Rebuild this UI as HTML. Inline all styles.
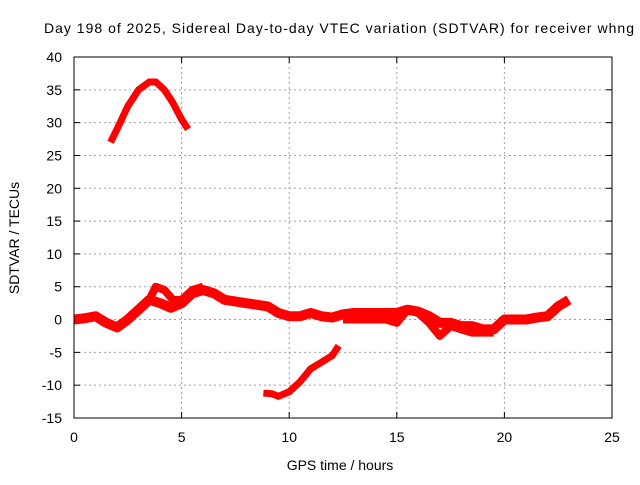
<!DOCTYPE html>
<html><head><meta charset="utf-8"><style>
body{margin:0;background:#fff}
svg text{font-family:"Liberation Sans",sans-serif;font-size:14px;fill:#000}
</style></head><body>
<svg id="chart" width="640" height="480" xmlns="http://www.w3.org/2000/svg">
<text x="44" y="33" textLength="590" lengthAdjust="spacing">Day 198 of 2025, Sidereal Day-to-day VTEC variation (SDTVAR) for receiver whng</text>
<text x="340" y="470" text-anchor="middle">GPS time / hours</text>
<text transform="translate(19,238) rotate(-90)" text-anchor="middle">SDTVAR / TECUs</text>
<g id="grid"></g><g id="ticks"></g><g id="series"></g>
<rect x="74" y="57" width="538" height="361" fill="none" stroke="#000" stroke-width="1"/>
</svg>
<script>
const xTicks=[0,5,10,15,20,25];
const yTicks=[-15,-10,-5,0,5,10,15,20,25,30,35,40];
const segTopHours=[1.7,2,2.5,3,3.5,3.8,4.2,4.6,5,5.3];
const segTopVals=[27,29,32.5,35,36.2,36.2,35,33,30.5,29];
const segMainHours=[0,0.5,1,1.5,2,2.5,3,3.5,4,4.5,5,5.5,6,6.5,7,8,9,9.5,10,10.5,11,11.5,12,12.5,13,14,15,15.5,16,16.5,17,17.5,18,18.5,19,19.5,20,20.5,21,21.5,22,22.5,23];
const segMainVals=[0,0.2,0.5,-0.5,-1.2,0,1.5,3,2.5,1.8,2.5,4,4.5,4,3,2.5,2,1,0.5,0.5,1,0.5,0.3,0.8,1,1,1,1.5,1.2,0.5,-0.5,-0.5,-1,-1,-1.5,-1.5,0,0,0,0.3,0.5,2,3];
const segUpperHours=[3.5,3.8,4.2,4.6,5,5.5,6];
const segUpperVals=[3,5,4.5,3,3,4.5,5];
const segLowerHours=[12.5,13.5,14.5,15,15.5,16,16.5,17,17.5,18,18.5,19,19.5];
const segLowerVals=[0,0,0,-0.5,1.5,1,-0.5,-2.5,-1,-1.5,-2,-2,-2];
const segBottomHours=[8.8,9.2,9.5,10,10.5,11,11.5,12,12.3];
const segBottomVals=[-11.2,-11.3,-11.7,-11,-9.5,-7.5,-6.5,-5.5,-4];
const X=h=>74+h/25*538, Y=v=>418-(v+15)/55*361;
const NS='http://www.w3.org/2000/svg';
const g=document.getElementById('grid'),t=document.getElementById('ticks'),s=document.getElementById('series');
function mk(p,tag,a){const e=document.createElementNS(NS,tag);for(const k in a)e.setAttribute(k,a[k]);p.appendChild(e);return e;}
xTicks.forEach(v=>{
 if(v>0&&v<25){const l=mk(g,'line',{x1:X(v),x2:X(v),y1:57,y2:418,stroke:'#a0a0a0','stroke-dasharray':'2,3'});
 
 }
 mk(t,'line',{x1:X(v),x2:X(v),y1:418,y2:412,stroke:'#000'});
 mk(t,'line',{x1:X(v),x2:X(v),y1:57,y2:63,stroke:'#000'});
 const tx=mk(t,'text',{x:X(v),y:442,'text-anchor':'middle'});tx.textContent=v;
 
 
});
yTicks.forEach(v=>{
 if(v>-15&&v<40){const l=mk(g,'line',{x1:74,x2:612,y1:Y(v),y2:Y(v),stroke:'#a0a0a0','stroke-dasharray':'2,3'});
 
 }
 mk(t,'line',{x1:74,x2:80,y1:Y(v),y2:Y(v),stroke:'#000'});
 mk(t,'line',{x1:606,x2:612,y1:Y(v),y2:Y(v),stroke:'#000'});
 const tx=mk(t,'text',{x:62,y:Y(v)+5,'text-anchor':'end'});tx.textContent=v;
 
 
});
[[segTopHours,segTopVals,'series-top-segment',7],[segMainHours,segMainVals,'series-main-band',10],[segUpperHours,segUpperVals,'series-upper-branch',8],[segLowerHours,segLowerVals,'series-lower-branch',8],[segBottomHours,segBottomVals,'series-bottom-segment',7]].forEach(([hs,vs,n,w])=>{
 const pts=hs.map((h,i)=>X(h)+','+Y(vs[i])).join(' ');
 const p=mk(s,'polyline',{points:pts,fill:'none',stroke:'#ff0000','stroke-width':w,'stroke-linejoin':'round','stroke-linecap':'butt'});
 
 
});
</script>
</body></html>
